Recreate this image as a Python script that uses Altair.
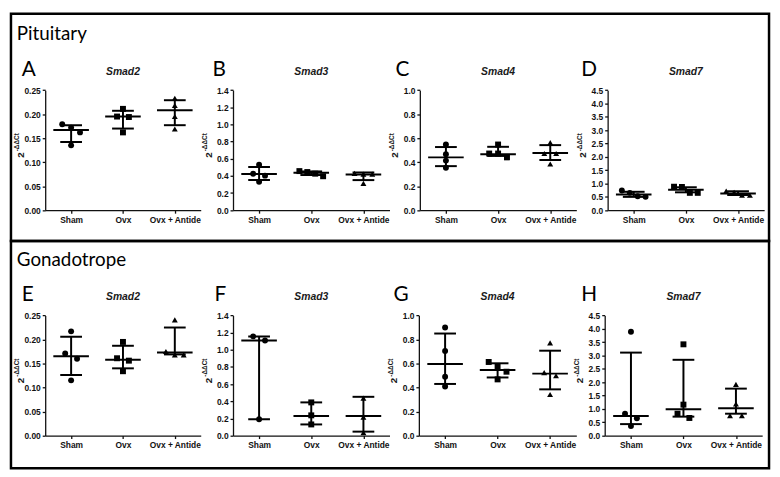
import altair as alt
import pandas as pd

# ---------------- data ----------------
groups = ["Sham", "Ovx", "Ovx + Antide"]
panels = ["A", "B", "C", "D", "E", "F", "G", "H"]
genes = ["Smad2", "Smad3", "Smad4", "Smad7", "Smad2", "Smad3", "Smad4", "Smad7"]
row_titles = ["Pituitary", "Gonadotrope"]

y_max = [0.25, 1.4, 1.0, 4.5, 0.25, 1.4, 1.0, 4.5]
y_step = [0.05, 0.2, 0.2, 0.5, 0.05, 0.2, 0.2, 0.5]
y_fmt = [".2f", ".1f", ".1f", ".1f", ".2f", ".1f", ".1f", ".1f"]

# individual values per group [Sham, Ovx, Ovx + Antide]
points_A = [[0.179, 0.172, 0.162, 0.135], [0.211, 0.195, 0.194, 0.162], [0.233, 0.218, 0.195, 0.169]]
points_B = [[0.53, 0.426, 0.403, 0.332], [0.456, 0.445, 0.426, 0.396], [0.43, 0.42, 0.42, 0.313]]
points_C = [[0.547, 0.466, 0.413, 0.353], [0.547, 0.472, 0.472, 0.44], [0.563, 0.472, 0.472, 0.385]]
points_D = [[0.74, 0.65, 0.52, 0.50], [0.87, 0.88, 0.65, 0.65], [0.72, 0.67, 0.56, 0.56]]
points_E = [[0.217, 0.171, 0.16, 0.115], [0.195, 0.161, 0.156, 0.134], [0.241, 0.175, 0.168, 0.168]]
points_F = [[1.157, 1.108, 0.19], [0.387, 0.236, 0.13], [0.437, 0.216, 0.034]]
points_G = [[0.90, 0.705, 0.49, 0.409], [0.613, 0.578, 0.532, 0.468], [0.772, 0.524, 0.498, 0.342]]
points_H = [[3.89, 0.82, 0.65, 0.355], [3.42, 1.16, 0.82, 0.66], [1.92, 1.185, 0.746, 0.746]]

# median and interquartile range per group [Sham, Ovx, Ovx + Antide]
median_A = [0.167, 0.195, 0.208]; low_A = [0.142, 0.170, 0.177]; high_A = [0.177, 0.207, 0.229]
median_B = [0.423, 0.437, 0.415]; low_B = [0.351, 0.41, 0.351]; high_B = [0.505, 0.452, 0.44]
median_C = [0.44, 0.466, 0.477]; low_C = [0.367, 0.452, 0.418]; high_C = [0.526, 0.528, 0.542]
median_D = [0.59, 0.77, 0.63]; low_D = [0.50, 0.67, 0.57]; high_D = [0.69, 0.86, 0.71]
median_E = [0.165, 0.158, 0.173]; low_E = [0.126, 0.14, 0.169]; high_E = [0.206, 0.187, 0.225]
median_F = [1.108, 0.228, 0.228]; low_F = [0.19, 0.13, 0.046]; high_F = [1.154, 0.387, 0.452]
median_G = [0.597, 0.546, 0.516]; low_G = [0.43, 0.484, 0.385]; high_G = [0.85, 0.602, 0.707]
median_H = [0.73, 0.99, 1.025]; low_H = [0.43, 0.71, 0.82]; high_H = [3.11, 2.84, 1.76]

points = dict(A=points_A, B=points_B, C=points_C, D=points_D, E=points_E, F=points_F, G=points_G, H=points_H)
medians = dict(A=median_A, B=median_B, C=median_C, D=median_D, E=median_E, F=median_F, G=median_G, H=median_H)
lows = dict(A=low_A, B=low_B, C=low_C, D=low_D, E=low_E, F=low_F, G=low_G, H=low_H)
highs = dict(A=high_A, B=high_B, C=high_C, D=high_D, E=high_E, F=high_F, G=high_G, H=high_H)

# ---------------- layout (reference pixel geometry) ----------------
W, H = 767, 230
FX = W / 775.0
FY = H / 234.0
row_top_ref = [2, 236]


def lx(px):
    return (px - 2) * FX


def ly(py, row):
    return (py - row_top_ref[row]) * FY


x_axis_ref = [(37, 196), (229, 389), (420, 580), (612, 772),
              (37, 196), (229, 389), (419, 580), (609, 770)]
y_axis_ref = [(204.3, 80.7), (436.3, 312.7)]
letter_x_ref = [13, 208, 395, 585, 13, 210, 393, 585]
letter_base_ref = [66.5, 297.5]
gene_mid_ref = [62.5, 294]
row_title_base_ref = [29, 262]

one = pd.DataFrame({"k": [0]})


def spread(vals, ymax, plot_h):
    px = [v / ymax * plot_h for v in vals]
    order = sorted(range(len(vals)), key=lambda i: -px[i])
    clusters = []
    for i in order:
        if clusters and abs(px[clusters[-1][-1]] - px[i]) < 6:
            clusters[-1].append(i)
        else:
            clusters.append([i])
    pattern = {1: [0], 2: [-6, 6], 3: [-9, 0, 9], 4: [-12, -4, 4, 12]}
    offs = [0.0] * len(vals)
    for c in clusters:
        for k, i in enumerate(c):
            offs[i] = pattern[len(c)][k]
    return offs


def build_panel(i):
    row = i // 4
    p = panels[i]
    x0r, x1r = x_axis_ref[i]
    ybr, ytr = y_axis_ref[row]
    x0, x1 = lx(x0r), lx(x1r)
    yb, yt = ly(ybr, row), ly(ytr, row)
    xs = alt.Scale(type="point", domain=groups, range=[x0, x1], padding=0.5)
    ys = alt.Scale(domain=[0, y_max[i]], range=[yb, yt], nice=False, zero=True)
    n = int(round(y_max[i] / y_step[i]))
    ticks = [round(k * y_step[i], 3) for k in range(n + 1)]
    xaxis = alt.Axis(orient="bottom", offset=yb - H, title=None, labelAngle=0)
    yaxis = alt.Axis(orient="left", offset=-x0, title=None, values=ticks, format=y_fmt[i])

    recs = []
    for g, vals in zip(groups, points[p]):
        offs = spread(vals, y_max[i], yb - yt)
        for v, o in zip(vals, offs):
            recs.append({"group": g, "value": v, "dx": o})
    dfp = pd.DataFrame(recs)
    dfs = pd.DataFrame({"group": groups, "med": medians[p], "lo": lows[p], "hi": highs[p]})

    X = alt.X("group:N", scale=xs, axis=xaxis, sort=groups)

    def Y(f):
        return alt.Y(f, type="quantitative", scale=ys, axis=yaxis)

    whisk = alt.Chart(dfs).mark_rule(color="black", strokeWidth=2).encode(x=X, y=Y("lo"), y2="hi:Q")
    med = alt.Chart(dfs).mark_tick(color="black", size=36, thickness=2, opacity=1).encode(x=X, y=Y("med"))
    lo = alt.Chart(dfs).mark_tick(color="black", size=22, thickness=2, opacity=1).encode(x=X, y=Y("lo"))
    hi = alt.Chart(dfs).mark_tick(color="black", size=22, thickness=2, opacity=1).encode(x=X, y=Y("hi"))
    pts = alt.Chart(dfp).mark_point(filled=True, size=36, opacity=1, color="black").encode(
        x=X,
        xOffset=alt.XOffset("dx:Q", scale=alt.Scale(domain=[-20, 20], range=[-20, 20])),
        y=Y("value"),
        shape=alt.Shape("group:N", scale=alt.Scale(domain=groups, range=["circle", "square", "triangle-up"]), legend=None),
    )

    ymid = (yb + yt) / 2
    letter = alt.Chart(one).mark_text(text=p, font="Lato", fontSize=21, align="left",
                                      baseline="alphabetic", color="black").encode(
        x=alt.value(lx(letter_x_ref[i])), y=alt.value(ly(letter_base_ref[row], row)))
    gene = alt.Chart(one).mark_text(text=genes[i], font="Liberation Sans", fontStyle="italic",
                                    fontWeight="bold", fontSize=10.5, align="center",
                                    baseline="middle", color="#1a1a1a").encode(
        x=alt.value((x0 + x1) / 2), y=alt.value(ly(gene_mid_ref[row], row)))
    t2 = alt.Chart(one).mark_text(text="2", angle=270, font="Liberation Sans", fontWeight="bold",
                                  fontSize=10, align="center", baseline="middle", color="#1a1a1a").encode(
        x=alt.value(x0 - 25 * FX), y=alt.value(ymid + 5))
    tsup = alt.Chart(one).mark_text(text="-\u0394\u0394Ct", angle=270, font="Liberation Sans",
                                    fontWeight="bold", fontSize=6.5, align="center",
                                    baseline="middle", color="#1a1a1a").encode(
        x=alt.value(x0 - 28.5 * FX), y=alt.value(ymid - 8))
    return alt.layer(whisk, med, lo, hi, pts, letter, gene, t2, tsup)


def build_row(row):
    layers = [build_panel(row * 4 + c) for c in range(4)]
    title = alt.Chart(one).mark_text(text=row_titles[row], font="Lato", fontSize=19, align="left",
                                     baseline="alphabetic", color="black").encode(
        x=alt.value(lx(8)), y=alt.value(ly(row_title_base_ref[row], row)))
    return alt.layer(*layers, title).resolve_scale(
        x="independent", y="independent", xOffset="independent"
    ).resolve_axis(x="independent", y="independent").properties(width=W, height=H)


chart = alt.vconcat(build_row(0), build_row(1), spacing=0, bounds="flush").properties(
    padding=1, background="white"
).configure_view(
    stroke="black", strokeWidth=2.5
).configure_axis(
    labelFont="Liberation Sans", labelFontSize=8.5, labelFontWeight="bold", labelColor="#111111",
    domainColor="#111111", tickColor="#111111", domainWidth=1.3, tickWidth=1.3, tickSize=3,
    grid=False, labelPadding=2
)

chart.save("out.html", embed_options={"renderer": "svg", "actions": False})
